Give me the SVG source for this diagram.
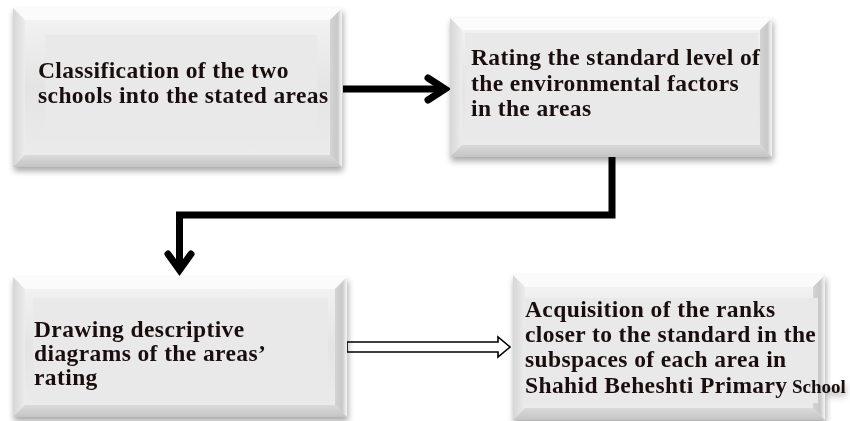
<svg xmlns="http://www.w3.org/2000/svg" width="850" height="421" viewBox="0 0 850 421">
  <defs>
    <linearGradient id="faceGrad" x1="0" y1="0" x2="0" y2="1">
      <stop offset="0" stop-color="#f4f4f4"/>
      <stop offset="0.5" stop-color="#e4e4e4"/>
      <stop offset="1" stop-color="#ececec"/>
    </linearGradient>
    <linearGradient id="leftGrad" x1="0" y1="0" x2="1" y2="0">
      <stop offset="0" stop-color="#d6d6d6"/>
      <stop offset="1" stop-color="#ececec"/>
    </linearGradient>
    <linearGradient id="rightGrad" x1="0" y1="0" x2="1" y2="0">
      <stop offset="0" stop-color="#d4d4d4"/>
      <stop offset="0.6" stop-color="#c8c8c8"/>
      <stop offset="1" stop-color="#f6f6f6"/>
    </linearGradient>
    <linearGradient id="bottomGrad" x1="0" y1="0" x2="0" y2="1">
      <stop offset="0" stop-color="#dadada"/>
      <stop offset="1" stop-color="#c4c4c4"/>
    </linearGradient>
    <filter id="shadow" x="-10%" y="-10%" width="120%" height="130%">
      <feDropShadow dx="1" dy="4" stdDeviation="3" flood-color="#000" flood-opacity="0.35"/>
    </filter>
  </defs>
  <style>
    .face { fill: url(#faceGrad); }
    .top { fill: #fbfbfb; }
    .left { fill: url(#leftGrad); }
    .right { fill: url(#rightGrad); }
    .bottom { fill: url(#bottomGrad); }
    .inner { fill: #e9e9e9; }
    .label { font-family: "Liberation Serif", "Times New Roman", serif; font-weight: bold; font-size: 23.5px; letter-spacing: 0.4px; fill: #1b1111; }
    .small { font-size: 19px; letter-spacing: 0; }
    .conn { fill: none; stroke: #000; stroke-width: 7; }
    .head { fill: none; stroke: #000; stroke-width: 7; stroke-linejoin: miter; stroke-linecap: round; }
    .hollow { fill: #fff; stroke: #000; stroke-width: 1.6; stroke-linejoin: miter; }
  </style>

  <rect width="850" height="421" fill="#fff"/>

  <!-- connectors -->
  <g id="connectors">
    <line class="conn" x1="343" y1="89" x2="444" y2="89"/>
    <path class="head" d="M428 78 L445 89 L428 100"/>
    <polyline class="conn" points="612,157 612,215 179.5,215 179.5,268"/>
    <path class="head" d="M168 254 L179.5 270 L191 254"/>
    <path class="hollow" d="M347 342 H498 V337 L510 347 L498 357 V352 H347 Z"/>
  </g>

  <!-- step 1 -->
  <g id="classify" filter="url(#shadow)">
    <rect class="face" x="13" y="8" width="329" height="159"/>
    <polygon class="top" points="13,8 342,8 330,20 25,20"/>
    <polygon class="left" points="13,8 25,20 25,155 13,167"/>
    <polygon class="right" points="342,8 342,167 330,155 330,20"/>
    <polygon class="bottom" points="13,167 25,155 330,155 342,167"/>
    <rect class="inner" x="45" y="35" width="272" height="105"/>
    <text class="label" x="38" y="78">Classification of the two</text>
    <text class="label" x="38" y="103">schools into the stated areas</text>
  </g>

  <!-- step 2 -->
  <g id="rating" filter="url(#shadow)">
    <rect class="face" x="450" y="18" width="322" height="139"/>
    <polygon class="top" points="450,18 772,18 760,30 462,30"/>
    <polygon class="left" points="450,18 462,30 462,145 450,157"/>
    <polygon class="right" points="772,18 772,157 760,145 760,30"/>
    <polygon class="bottom" points="450,157 462,145 760,145 772,157"/>
    <rect class="inner" x="465" y="33" width="293" height="107"/>
    <text class="label" x="471" y="65">Rating the standard level of</text>
    <text class="label" x="471" y="91">the environmental factors</text>
    <text class="label" x="471" y="116">in the areas</text>
  </g>

  <!-- step 3 -->
  <g id="drawing" filter="url(#shadow)">
    <rect class="face" x="13" y="277" width="334" height="140"/>
    <polygon class="top" points="13,277 347,277 335,289 25,289"/>
    <polygon class="left" points="13,277 25,289 25,405 13,417"/>
    <polygon class="right" points="347,277 347,417 335,405 335,289"/>
    <polygon class="bottom" points="13,417 25,405 335,405 347,417"/>
    <rect class="inner" x="33" y="298" width="295" height="105"/>
    <text class="label" x="34" y="337">Drawing descriptive</text>
    <text class="label" x="34" y="361">diagrams of the areas’</text>
    <text class="label" x="34" y="385">rating</text>
  </g>

  <!-- step 4 -->
  <g id="acquisition" filter="url(#shadow)">
    <rect class="face" x="513" y="275" width="312" height="145"/>
    <polygon class="top" points="513,275 825,275 813,287 525,287"/>
    <polygon class="left" points="513,275 525,287 525,408 513,420"/>
    <polygon class="right" points="825,275 825,420 813,408 813,287"/>
    <polygon class="bottom" points="513,420 525,408 813,408 825,420"/>
    <rect class="inner" x="525" y="298" width="293" height="105"/>
    <text class="label" x="525" y="317">Acquisition of the ranks</text>
    <text class="label" x="525" y="342">closer to the standard in the</text>
    <text class="label" x="525" y="367">subspaces of each area in</text>
    <text class="label" x="525" y="393">Shahid Beheshti Primary<tspan class="small" x="792">School</tspan></text>
  </g>
</svg>
